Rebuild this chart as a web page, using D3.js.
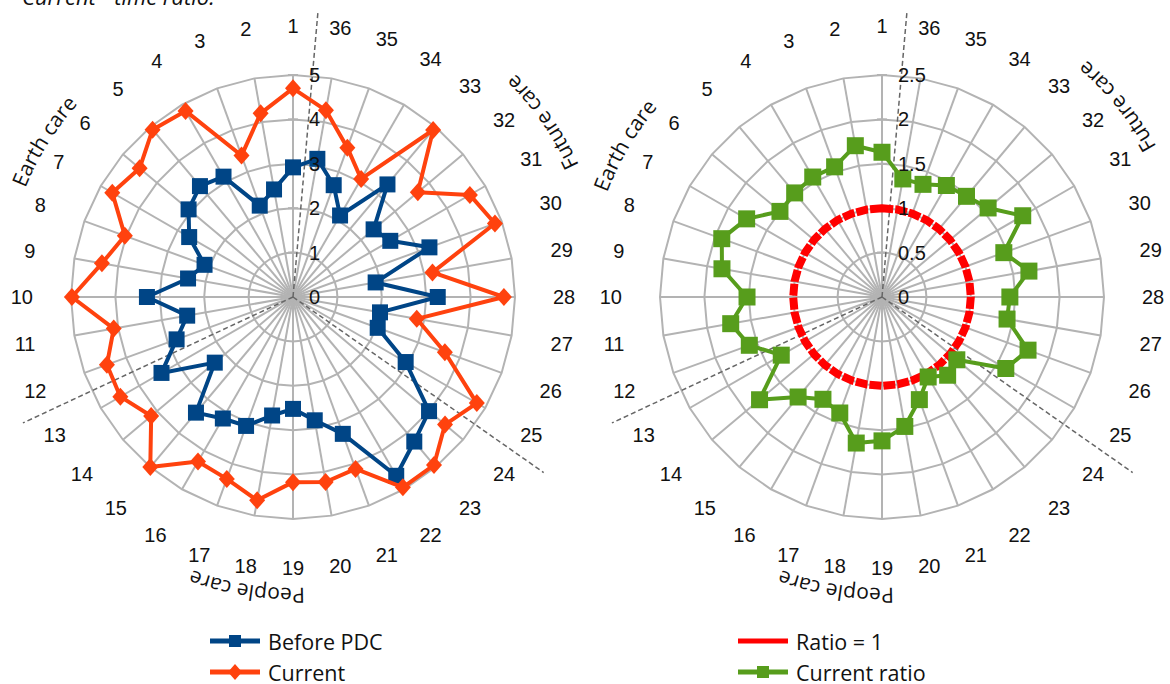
<!DOCTYPE html>
<html>
<head>
<meta charset="UTF-8"/>
<style>
  body { margin: 0; background: #fff; }
  svg text { font-family: "Liberation Sans", Arial, sans-serif; fill: #111; }
</style>
</head>
<body>
<script src="https://d3js.org/d3.v7.min.js"></script>
<script>
// categories (questions 1..36), counter-clockwise from the top
const categories = ["1","2","3","4","5","6","7","8","9","10","11","12",
  "13","14","15","16","17","18","19","20","21","22","23","24",
  "25","26","27","28","29","30","31","32","33","34","35","36"];

const beforePDC = [2.92, 2.46, 2.19, 3.13, 3.26, 3.07, 2.70, 2.12, 2.40, 3.29, 2.42, 2.79,
  3.42, 2.30, 3.40, 3.16, 3.09, 2.71, 2.52, 2.82, 3.28, 4.65, 4.25, 4.00,
  2.93, 2.03, 1.99, 3.26, 1.89, 3.27, 2.53, 2.37, 3.31, 2.12, 2.68, 3.16];

const current = [4.70, 4.20, 3.39, 4.84, 4.92, 4.51, 4.70, 4.03, 4.37, 4.98, 4.10, 4.46,
  4.49, 4.17, 5.00, 4.28, 4.36, 4.65, 4.17, 4.23, 4.12, 4.95, 4.94, 4.47,
  4.78, 3.64, 2.83, 4.75, 3.19, 4.84, 4.60, 3.67, 4.91, 3.07, 3.58, 4.27];

const currentRatio = [1.63, 1.73, 1.56, 1.56, 1.53, 1.50, 1.76, 1.92, 1.83, 1.52, 1.73, 1.59,
  1.31, 1.80, 1.47, 1.33, 1.39, 1.67, 1.62, 1.48, 1.23, 1.04, 1.15, 1.10,
  1.61, 1.75, 1.43, 1.44, 1.68, 1.46, 1.83, 1.56, 1.48, 1.45, 1.35, 1.35];

const ratioOne = [1,1,1,1,1,1,1,1,1,1,1,1, 1,1,1,1,1,1,1,1,1,1,1,1, 1,1,1,1,1,1,1,1,1,1,1,1];

const leftTicks = [0, 1, 2, 3, 4, 5];
const rightTicks = [0, 0.5, 1, 1.5, 2, 2.5];
const sectorNames = ["Earth care", "People care", "Future care"];
// sector boundaries, in category-index units
const sectorBounds = [-0.5, 11.5, 23.5];

const width = 1170, height = 684;
const R = 222, cy = 297;
const step = 2 * Math.PI / categories.length;
const angleOf = i => -i * step;   // d3 radial angle (clockwise from top); negative = counter-clockwise

const svg = d3.select("body").append("svg")
  .attr("width", width)
  .attr("height", height);

svg.append("rect").attr("width", width).attr("height", height).attr("fill", "#fff");

// title, cut off at the top
svg.append("text")
  .attr("x", 22).attr("y", 5)
  .style("font-family", "'Open Sans', sans-serif")
  .style("font-style", "italic")
  .attr("font-size", 22)
  .text("Current - time ratio.");

const squarePath = s => `M${-s/2},${-s/2}H${s/2}V${s/2}H${-s/2}Z`;
const diamondPath = (w, h) => `M0,${-h}L${w},0L0,${h}L${-w},0Z`;

function arcPath(rad, phi, outward) {
  // phi: degrees counter-clockwise from top
  const pt = p => {
    const a = p * Math.PI / 180;
    return [-rad * Math.sin(a), -rad * Math.cos(a)];
  };
  const s = outward ? pt(phi + 45) : pt(phi - 45);
  const e = outward ? pt(phi - 45) : pt(phi + 45);
  return `M${s[0]},${s[1]}A${rad},${rad} 0 0 ${outward ? 1 : 0} ${e[0]},${e[1]}`;
}

function drawRadar(key, cx, ticks, fmt, series, placements) {
  const g = svg.append("g").attr("transform", `translate(${cx},${cy})`);
  const r = d3.scaleLinear().domain([0, d3.max(ticks)]).range([0, R]);

  // grid rings
  const ring = d3.lineRadial()
    .angle((d, i) => angleOf(i))
    .radius(d => r(d))
    .curve(d3.curveLinearClosed);
  ticks.filter(t => t > 0).forEach(t => {
    g.append("path")
      .attr("d", ring(categories.map(() => t)))
      .attr("fill", "none")
      .attr("stroke", "#b3b3b3")
      .attr("stroke-width", 2);
  });

  // spokes
  g.selectAll("line.spoke")
    .data(categories)
    .enter()
    .append("line")
    .attr("class", "spoke")
    .attr("x1", 0).attr("y1", 0)
    .attr("x2", (d, i) => R * Math.sin(angleOf(i)))
    .attr("y2", (d, i) => -R * Math.cos(angleOf(i)))
    .attr("stroke", "#b3b3b3")
    .attr("stroke-width", 2);

  // small ticks on the value axis
  ticks.filter(t => t > 0).forEach(t => {
    g.append("line")
      .attr("x1", -5).attr("x2", 5)
      .attr("y1", -r(t)).attr("y2", -r(t))
      .attr("stroke", "#b3b3b3").attr("stroke-width", 2);
  });

  // dashed sector separators
  const sepLen = [288, 298, 306];
  sectorBounds.forEach((b, k) => {
    g.append("line")
      .attr("x1", 0).attr("y1", 0)
      .attr("x2", sepLen[k] * Math.sin(angleOf(b)))
      .attr("y2", -sepLen[k] * Math.cos(angleOf(b)))
      .attr("stroke", "#666")
      .attr("stroke-width", 1.5)
      .attr("stroke-dasharray", "5,3");
  });

  // series
  const line = d3.lineRadial()
    .angle((d, i) => angleOf(i))
    .radius(d => r(d))
    .curve(d3.curveLinearClosed);
  series.forEach(s => {
    const p = g.append("path")
      .attr("d", line(s.values))
      .attr("fill", "none")
      .attr("stroke", s.color)
      .attr("stroke-width", s.width)
      .attr("stroke-linejoin", "round");
    if (s.dash) p.attr("stroke-dasharray", s.dash);
    if (s.marker) {
      g.selectAll(null)
        .data(s.values)
        .enter()
        .append("path")
        .attr("d", s.marker)
        .attr("transform", (d, i) => `translate(${r(d) * Math.sin(angleOf(i))},${-r(d) * Math.cos(angleOf(i))})`)
        .attr("fill", s.color);
    }
  });

  // value labels
  g.selectAll("text.tick")
    .data(ticks)
    .enter()
    .append("text")
    .attr("class", "tick")
    .attr("x", 16)
    .attr("y", d => -r(d))
    .attr("dominant-baseline", "central")
    .attr("font-size", 20)
    .text(fmt);

  // category labels
  const edge = 260;
  g.selectAll("text.cat")
    .data(categories)
    .enter()
    .append("text")
    .attr("class", "cat")
    .attr("font-size", 20)
    .attr("text-anchor", "middle")
    .attr("dominant-baseline", "central")
    .text(d => d)
    .each(function(d, i) {
      const bb = this.getBBox();
      const ux = Math.sin(angleOf(i)), uy = -Math.cos(angleOf(i));
      const dist = edge + Math.abs(ux) * bb.width / 2 + Math.abs(uy) * bb.height / 2;
      d3.select(this).attr("x", ux * dist).attr("y", uy * dist);
    });

  // sector names along the rim
  sectorNames.forEach((name, k) => {
    const pl = placements[k];
    const id = `${key}-sector-${k}`;
    g.append("path")
      .attr("id", id)
      .attr("d", arcPath(pl.rad, pl.phi, pl.outward))
      .attr("fill", "none");
    g.append("text")
      .style("font-family", "'Open Sans', sans-serif")
      .attr("font-size", 21)
      .append("textPath")
      .attr("href", `#${id}`)
      .attr("startOffset", "50%")
      .attr("text-anchor", "middle")
      .text(name);
  });
}

drawRadar("left", 293, leftTicks, d => d3.format("d")(d), [
  {values: beforePDC, color: "#004586", width: 4, marker: squarePath(16)},
  {values: current, color: "#ff420e", width: 4, marker: diamondPath(8, 9)}
], [
  {phi: 58, rad: 289, outward: true},
  {phi: 171, rad: 291, outward: true},
  {phi: 305, rad: 315, outward: false}
]);

drawRadar("right", 882, rightTicks, d => String(d), [
  {values: ratioOne, color: "#ff0000", width: 8, dash: "12,2"},
  {values: currentRatio, color: "#579d1c", width: 4, marker: squarePath(17)}
], [
  {phi: 59.5, rad: 294, outward: true},
  {phi: 171, rad: 291, outward: true},
  {phi: 309, rad: 313, outward: false}
]);

// legends
function legend(x, y, items) {
  const g = svg.append("g").attr("transform", `translate(${x},${y})`);
  items.forEach((it, k) => {
    const row = g.append("g").attr("transform", `translate(0,${k * 31})`);
    row.append("line")
      .attr("x1", 0).attr("x2", 50)
      .attr("stroke", it.color).attr("stroke-width", 5);
    if (it.marker) row.append("path").attr("d", it.marker).attr("transform", "translate(25,0)").attr("fill", it.color);
    row.append("text")
      .attr("x", 58)
      .attr("dominant-baseline", "central")
      .style("font-family", "'Open Sans', sans-serif")
      .attr("font-size", 21.5)
      .text(it.name);
  });
}

legend(210, 641, [
  {name: "Before PDC", color: "#004586", marker: squarePath(12)},
  {name: "Current", color: "#ff420e", marker: diamondPath(7, 8)}
]);
legend(738, 641, [
  {name: "Ratio = 1", color: "#ff0000"},
  {name: "Current ratio", color: "#579d1c", marker: squarePath(12)}
]);
</script>
</body>
</html>
